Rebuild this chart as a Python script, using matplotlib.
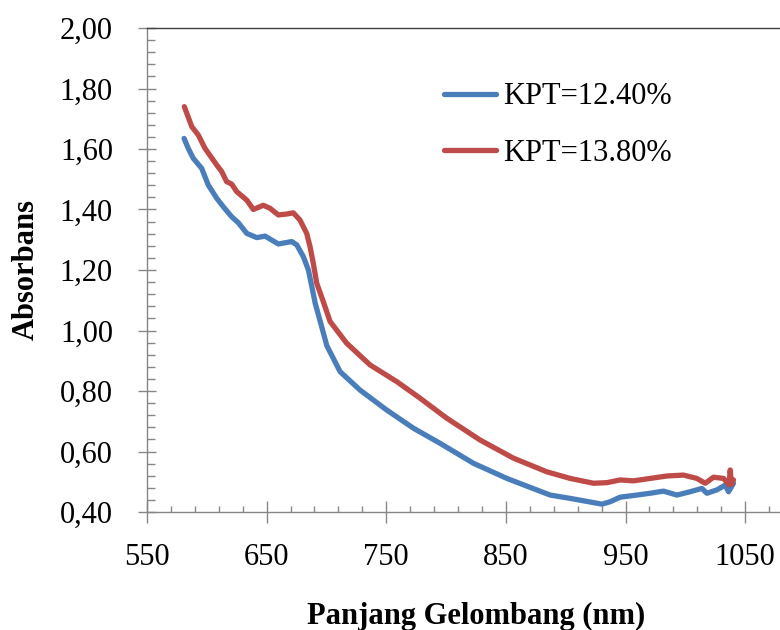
import matplotlib
matplotlib.use("Agg")
import matplotlib.pyplot as plt
from matplotlib.ticker import MultipleLocator, FixedLocator, FuncFormatter

# ---- data ----
blue_x = [581, 584.5, 588.7, 595.7, 601.2, 608.3, 613.8, 620.8, 626.4, 633.4, 641.8,
          648.7, 659.8, 671.0, 675.2, 680.7, 684.9, 687.8, 690.6, 694.8, 700.3, 711.4,
          728.1, 750.4, 772.7, 795.0, 822.9, 850.8, 875.8, 887, 903.7, 914.9, 930.3,
          937.2, 945.5, 959.5, 970.6, 981.7, 992.9, 1004, 1013.8, 1018, 1026.3, 1033.3,
          1036.1, 1040.2]
blue_y = [1.635, 1.602, 1.569, 1.536, 1.481, 1.437, 1.409, 1.376, 1.356, 1.321, 1.307,
          1.312, 1.286, 1.294, 1.283, 1.244, 1.200, 1.145, 1.090, 1.030, 0.950, 0.864,
          0.803, 0.737, 0.677, 0.627, 0.561, 0.511, 0.473, 0.456, 0.445, 0.437, 0.426,
          0.434, 0.449, 0.456, 0.462, 0.469, 0.456, 0.467, 0.478, 0.462, 0.473, 0.489,
          0.467, 0.495]

red_x = [581.2, 587.4, 592.9, 598.5, 608.3, 612.5, 616.6, 620.8, 625.0, 633.4, 638.9,
         647.2, 652.8, 659.8, 666.8, 672.3, 677.9, 683.5, 686.3, 689.0, 691.9, 697.4,
         703.0, 716.9, 736.5, 758.8, 778.3, 800.6, 828.4, 856.3, 884.1, 903.7, 923.2,
         934.4, 945.5, 956.6, 970.6, 984.5, 998.4, 1009.6, 1016.6, 1023.5, 1031.9,
         1036.5, 1037.5, 1038.5, 1040.2]
red_y = [1.740, 1.674, 1.646, 1.602, 1.547, 1.525, 1.492, 1.484, 1.459, 1.431, 1.400,
         1.414, 1.404, 1.382, 1.385, 1.389, 1.365, 1.321, 1.277, 1.222, 1.156, 1.095,
         1.030, 0.958, 0.886, 0.831, 0.776, 0.710, 0.638, 0.578, 0.533, 0.511, 0.495,
         0.497, 0.506, 0.503, 0.511, 0.519, 0.522, 0.511, 0.495, 0.515, 0.511,
         0.490, 0.539, 0.492, 0.506]

x_ticks = [550, 650, 750, 850, 950, 1050]
series_labels = ["KPT=12.40%", "KPT=13.80%"]
x_title = "Panjang Gelombang (nm)"
y_title = "Absorbans"

# ---- figure ----
plt.rcParams['font.family'] = ['Liberation Serif', 'DejaVu Serif']
fig = plt.figure(figsize=(7.8, 6.3), dpi=100)
W, H = 780, 630
left, bottom, top = 147, 512, 28
ax = fig.add_axes([left / W, 1 - bottom / H, 658 / W, (bottom - top) / H])

c_blue = "#4A7EBB"
c_red = "#BE4B48"
l1, = ax.plot(blue_x, blue_y, color=c_blue, lw=3.8, solid_capstyle='round',
              solid_joinstyle='round')
l2, = ax.plot(red_x, red_y, color=c_red, lw=3.8, solid_capstyle='round',
              solid_joinstyle='round')

ax.set_xlim(550, 1100)
ax.set_ylim(0.40, 2.00)

ax.xaxis.set_major_locator(FixedLocator(x_ticks))
ax.xaxis.set_minor_locator(FixedLocator([v for v in range(570, 1100, 20)
                                         if (v - 550) % 100 != 0]))
ax.yaxis.set_major_locator(MultipleLocator(0.2))
ax.yaxis.set_minor_locator(MultipleLocator(0.04))
ax.yaxis.set_major_formatter(FuncFormatter(lambda v, p: f"{v:.2f}".replace(".", ",")))
ax.xaxis.set_major_formatter(FuncFormatter(lambda v, p: f"{v:.0f}"))

gray = "#868686"
ax.spines["right"].set_visible(False)
ax.spines["left"].set_color(gray)
ax.spines["bottom"].set_color(gray)
ax.spines["top"].set_color("#404040")
for s in ax.spines.values():
    s.set_linewidth(1.0)

ax.tick_params(axis='y', which='major', direction='inout', length=13, width=1,
               color=gray, labelsize=22, pad=18)
ax.tick_params(axis='y', which='minor', direction='in', length=6, width=1, color=gray)
ax.tick_params(axis='x', which='major', direction='inout', length=16, width=1,
               color=gray, labelsize=22, pad=14)
ax.tick_params(axis='x', which='minor', direction='in', length=4, width=1, color=gray)
ax.tick_params(top=False, right=False, which='both')

ax.set_xlabel(x_title, fontsize=22, fontweight='bold', labelpad=22)
ax.set_ylabel(y_title, fontsize=22, fontweight='bold', labelpad=14)

leg = ax.legend([l1, l2], series_labels, loc='center left', frameon=False,
                bbox_to_anchor=(444 / W, 1 - 125 / H), bbox_transform=fig.transFigure,
                fontsize=22, handlelength=1.7, handletextpad=0.25, labelspacing=0.9,
                borderaxespad=0, borderpad=0)

fig.savefig("out.png", dpi=100)
